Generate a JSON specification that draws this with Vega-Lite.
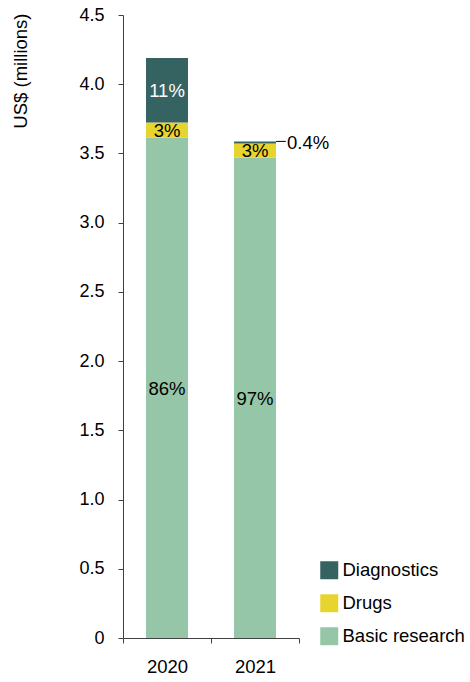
{
  "$schema": "https://vega.github.io/schema/vega-lite/v6.json",
  "autosize": {"type": "none"},
  "padding": {"left": 123, "top": 15, "right": 171, "bottom": 44},
  "width": 176,
  "height": 623,
  "background": "white",
  "config": {
    "view": {"stroke": null},
    "font": "Liberation Sans",
    "axis": {"labelFont": "Liberation Sans", "titleFont": "Liberation Sans"},
    "legend": {"labelFont": "Liberation Sans"}
  },
  "data": {
    "values": [
      {"year": "2020", "category": "Basic research", "rank": 1, "value": 3.616, "share": "86%"},
      {"year": "2020", "category": "Drugs", "rank": 2, "value": 0.108, "share": "3%"},
      {"year": "2020", "category": "Diagnostics", "rank": 3, "value": 0.466, "share": "11%"},
      {"year": "2021", "category": "Basic research", "rank": 1, "value": 3.471, "share": "97%"},
      {"year": "2021", "category": "Drugs", "rank": 2, "value": 0.101, "share": "3%"},
      {"year": "2021", "category": "Diagnostics", "rank": 3, "value": 0.015, "share": "0.4%"}
    ]
  },
  "encoding": {
    "x": {
      "field": "year",
      "type": "nominal",
      "scale": {"domain": ["2020", "2021"], "paddingInner": 0, "paddingOuter": 0},
      "axis": {
        "title": null,
        "labelAngle": 0,
        "labelFontSize": 18.5,
        "labelColor": "#000000",
        "labelPadding": 14,
        "tickBand": "extent",
        "tickSize": 5,
        "tickColor": "#404040",
        "domainColor": "#404040",
        "grid": false
      }
    },
    "y": {
      "field": "value",
      "type": "quantitative",
      "stack": "zero",
      "scale": {"domain": [0, 4.5], "nice": false, "zero": true},
      "axis": {
        "title": "US$ (millions)",
        "titleFontSize": 18.5,
        "titleFontWeight": "normal",
        "titleColor": "#000000",
        "titleAngle": -90,
        "titleAlign": "right",
        "titleBaseline": "middle",
        "titleX": -103,
        "titleY": -2,
        "values": [0, 0.5, 1, 1.5, 2, 2.5, 3, 3.5, 4, 4.5],
        "labelExpr": "datum.value == 0 ? '0' : format(datum.value, '.1f')",
        "labelFontSize": 18,
        "labelColor": "#000000",
        "labelPadding": 14,
        "tickSize": 5,
        "tickColor": "#404040",
        "domainColor": "#404040",
        "grid": false
      }
    },
    "order": {"field": "rank", "type": "quantitative"},
    "detail": {"field": "category", "type": "nominal"}
  },
  "layer": [
    {
      "mark": {"type": "bar", "width": {"band": 0.477}},
      "encoding": {
        "color": {
          "field": "category",
          "type": "nominal",
          "scale": {
            "domain": ["Diagnostics", "Drugs", "Basic research"],
            "range": ["#356361", "#e8d42e", "#94c6a7"]
          },
          "legend": {
            "title": null,
            "orient": "none",
            "legendX": 197,
            "legendY": 546,
            "padding": 0,
            "symbolType": "square",
            "symbolSize": 324,
            "symbolStrokeWidth": 0,
            "symbolOpacity": 1,
            "labelFontSize": 18.5,
            "labelColor": "#000000",
            "labelOffset": 4,
            "rowPadding": 14
          }
        }
      }
    },
    {
      "mark": {"type": "text", "fontSize": 18.5, "baseline": "middle", "align": "center", "dy": 1},
      "encoding": {
        "y": {"field": "value", "type": "quantitative", "stack": "zero", "bandPosition": 0.5},
        "text": {"condition": {"test": "datum.value < 0.05", "value": ""}, "field": "share"},
        "color": {"condition": {"test": "datum.category === 'Diagnostics'", "value": "#ffffff"}, "value": "#000000"}
      }
    },
    {
      "mark": {"type": "rule", "strokeWidth": 1, "color": "#000000"},
      "encoding": {
        "x": {"field": "year", "type": "nominal", "bandPosition": 0.74},
        "x2": {"field": "year", "bandPosition": 0.85},
        "y": {"field": "value", "type": "quantitative", "stack": "zero", "bandPosition": 1},
        "opacity": {"condition": {"test": "datum.value < 0.05", "value": 1}, "value": 0}
      }
    },
    {
      "mark": {"type": "text", "fontSize": 18.5, "baseline": "middle", "align": "left", "dy": 2, "color": "#000000"},
      "encoding": {
        "x": {"field": "year", "type": "nominal", "bandPosition": 0.864},
        "y": {"field": "value", "type": "quantitative", "stack": "zero", "bandPosition": 1},
        "text": {"condition": {"test": "datum.value < 0.05", "field": "share"}, "value": ""}
      }
    }
  ]
}
